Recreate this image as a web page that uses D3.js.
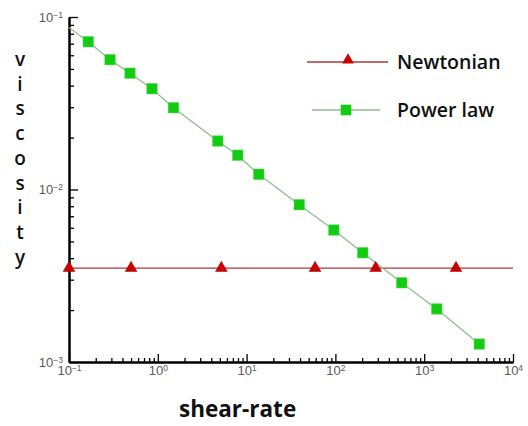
<!DOCTYPE html>
<html><head><meta charset="utf-8">
<script src="https://cdn.jsdelivr.net/npm/d3@7"></script>
<style>body{margin:0;background:#fff}</style>
</head><body><svg id="c" width="528" height="426"></svg>
<script>
// ---- data ----
const seriesNames = ["Newtonian", "Power law"];
const newtonianX = [0.1, 0.5, 5.2, 59, 284, 2280];
const newtonianY = [0.0035, 0.0035, 0.0035, 0.0035, 0.0035, 0.0035];
const newtonianLineX = [0.1, 10000];
const newtonianLineY = [0.0035, 0.0035];
const powerX = [0.165, 0.29, 0.486, 0.86, 1.5, 4.73, 7.94, 13.7, 39.2, 96, 203, 558, 1383, 4170];
const powerY = [0.0719, 0.0566, 0.0472, 0.0384, 0.0298, 0.0191, 0.0158, 0.01225, 0.00816, 0.00582, 0.0043, 0.00288, 0.00203, 0.00127];
const powerLineX = [0.1].concat(powerX);
const powerLineY = [0.087].concat(powerY);
const xTickExps = [-1, 0, 1, 2, 3, 4];
const yTickExps = [-1, -2, -3];
const xTitle = "shear-rate";
const yTitle = "viscosity";

// ---- layout ----
const svg = d3.select("#c");
const x = d3.scaleLog().domain([0.1, 1e4]).range([69, 513]);
const y = d3.scaleLog().domain([1e-3, 1e-1]).range([362, 17]);

function minorTicks(domain) {
  const out = [];
  const lo = Math.round(Math.log10(domain[0])), hi = Math.round(Math.log10(domain[1]));
  for (let e = lo; e < hi; e++) for (let m = 2; m <= 9; m++) out.push(m * Math.pow(10, e));
  return out;
}
const sup = e => (e < 0 ? "\u2212" : "") + Math.abs(e);

function labelTicks(g, exps) {
  g.selectAll(".tick text").each(function(d, i) {
    const t = d3.select(this);
    t.text(null);
    t.append("tspan").text("10");
    t.append("tspan").attr("dy", "-0.45em").attr("font-size", "8.5px").text(sup(exps[i]));
  });
}

// x axis
svg.append("g").attr("transform", "translate(0,362)")
  .call(d3.axisBottom(x).tickValues(minorTicks(x.domain())).tickSizeInner(-4).tickSizeOuter(0).tickFormat(""));
const gx = svg.append("g").attr("transform", "translate(0,362)")
  .call(d3.axisBottom(x).tickValues(xTickExps.map(e => Math.pow(10, e))).tickSizeInner(-8).tickSizeOuter(0).tickPadding(4).tickFormat(() => "x"));
labelTicks(gx, xTickExps);
// y axis
svg.append("g").attr("transform", "translate(69,0)")
  .call(d3.axisLeft(y).tickValues(minorTicks(y.domain())).tickSizeInner(-5).tickSizeOuter(0).tickFormat(""));
const gy = svg.append("g").attr("transform", "translate(69,0)")
  .call(d3.axisLeft(y).tickValues(yTickExps.map(e => Math.pow(10, e))).tickSizeInner(-9).tickSizeOuter(0).tickPadding(6).tickFormat(() => "y"));
labelTicks(gy, yTickExps);

svg.selectAll(".domain").attr("stroke", "#000").attr("stroke-width", 2);
svg.selectAll(".tick line").attr("stroke", "#000").attr("stroke-width", 1.3);
svg.selectAll(".tick text").attr("fill", "#5a5a5a").attr("font-family", "Liberation Sans, Arial, sans-serif").attr("font-size", "13px");

// lines
const line = d3.line().x(d => x(d[0])).y(d => y(d[1]));
svg.append("path").datum(d3.zip(newtonianLineX, newtonianLineY)).attr("d", line)
  .attr("fill", "none").attr("stroke", "#a83a3a").attr("stroke-width", 1.2);
svg.append("path").datum(d3.zip(powerLineX, powerLineY)).attr("d", line)
  .attr("fill", "none").attr("stroke", "#8cbf8c").attr("stroke-width", 1.3);

const tri = d3.symbol().type(d3.symbolTriangle).size(60);
const sq = d3.symbol().type(d3.symbolSquare).size(112);
svg.append("g").selectAll("path").data(d3.zip(newtonianX, newtonianY)).join("path")
  .attr("d", tri).attr("transform", d => `translate(${x(d[0])},${y(d[1])})`)
  .attr("fill", "#cc0000").attr("stroke", "#990000").attr("stroke-width", 0.5);
svg.append("g").selectAll("path").data(d3.zip(powerX, powerY)).join("path")
  .attr("d", sq).attr("transform", d => `translate(${x(d[0])},${y(d[1])})`)
  .attr("fill", "#11cc11").attr("stroke", "#66dd66").attr("stroke-width", 0.5);

// legend
const legend = [
  {name: seriesNames[0], y: 62, x1: 307, x2: 388, mx: 348, sym: tri, fill: "#cc0000", stroke: "#a83a3a"},
  {name: seriesNames[1], y: 110, x1: 312, x2: 380, mx: 346, sym: sq, fill: "#11cc11", stroke: "#8cbf8c"}
];
legend.forEach(l => {
  svg.append("line").attr("x1", l.x1).attr("x2", l.x2).attr("y1", l.y).attr("y2", l.y)
    .attr("stroke", l.stroke).attr("stroke-width", 1.3);
  svg.append("path").attr("d", l.sym).attr("transform", `translate(${l.mx},${l.y - (l.sym === tri ? 2 : 0)})`).attr("fill", l.fill);
  svg.append("text").attr("x", 397).attr("y", l.y).attr("dy", "0.35em")
    .attr("font-family", "Open Sans, sans-serif").attr("font-weight", 600).attr("font-size", "19.5px")
    .attr("fill", "#111").text(l.name);
});

// titles
svg.append("text").attr("x", 179).attr("y", 417)
  .attr("font-family", "Open Sans, sans-serif").attr("font-weight", 700).attr("font-size", "22.5px")
  .attr("fill", "#111").text(xTitle);
const vt = svg.append("text").attr("font-family", "Open Sans, sans-serif").attr("font-weight", 600)
  .attr("font-size", "19px").attr("fill", "#111").attr("text-anchor", "middle");
yTitle.split("").forEach((ch, i) => {
  vt.append("tspan").attr("x", 20).attr("y", 66 + i * 24.7).text(ch);
});
</script>
</body></html>
